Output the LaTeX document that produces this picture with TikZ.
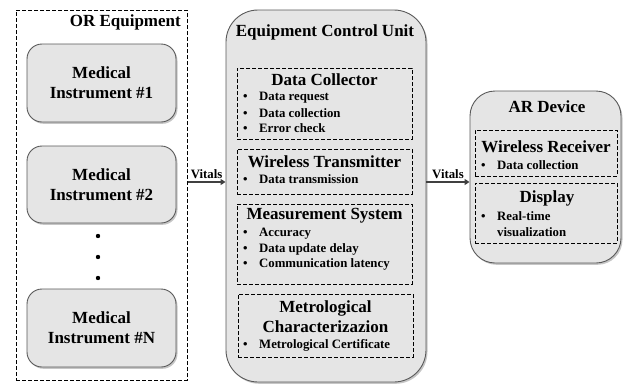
\documentclass[tikz,border=0pt]{standalone}
\usepackage{fontspec}
\setmainfont{Liberation Serif}
\usetikzlibrary{shadows,arrows.meta}

\tikzset{
  unitbox/.style={draw=black!65, line width=0.9pt, fill=black!10,
    drop shadow={shadow xshift=1.5pt, shadow yshift=-1.8pt, opacity=0.45}},
  partbox/.style={draw, line width=1pt, dash pattern=on 4pt off 2pt},
  headtext/.style={font=\bfseries\fontsize{17}{20}\selectfont, align=center, inner sep=0pt},
  parttext/.style={font=\bfseries\fontsize{17}{20}\selectfont, align=center, inner sep=0pt},
  itemtext/.style={font=\bfseries\fontsize{12.8}{15}\selectfont, anchor=west, inner sep=0pt},
  vitalsarrow/.style={-{Triangle[length=5pt,width=6pt]}, line width=1.3pt, black!75}
}

\begin{document}
\begin{tikzpicture}[x=1pt,y=-1pt]
        \useasboundingbox (0,0) rectangle (623,383);

        % OR equipment
        \node[partbox, minimum width=171pt, minimum height=370pt] (or) at (101.5,195) {};
        \node[headtext, anchor=east] (ortitle) at (181,22) {OR Equipment};
        \node[unitbox, rounded corners=15pt, minimum width=149pt, minimum height=78pt, headtext] (mi1) at (101.5,83) {Medical\\Instrument \#1};
        \node[unitbox, rounded corners=15pt, minimum width=149pt, minimum height=77pt, headtext] (mi2) at (101.5,184.5) {Medical\\Instrument \#2};
        \node[unitbox, rounded corners=15pt, minimum width=149pt, minimum height=78pt, headtext] (min) at (101.5,328) {Medical\\Instrument \#N};
        \foreach \y in {236,257,278} \fill (98,\y) circle (2.2pt);

        % Equipment control unit
        \node[unitbox, rounded corners=32pt, minimum width=200pt, minimum height=372pt] (ecu) at (326,196) {};
        \node[headtext] (ecutitle) at (325,32) {Equipment Control Unit};

        \node[partbox, minimum width=175pt, minimum height=71pt] (dc) at (324.5,103.5) {};
        \node[parttext] (dctitle) at (324.5,80) {Data Collector};
        \foreach \y/\t in {98/Data request, 113/Data collection, 128/Error check}
          \node[itemtext] (dc\y) at (243,\y) {\makebox[16pt][l]{\textbullet}\t};

        \node[partbox, minimum width=175pt, minimum height=45pt] (wt) at (324.5,171.5) {};
        \node[parttext] (wttitle) at (324.5,162) {Wireless Transmitter};
        \node[itemtext] (wt179) at (243,179) {\makebox[16pt][l]{\textbullet}Data transmission};

        \node[partbox, minimum width=175pt, minimum height=80pt] (ms) at (324.5,244) {};
        \node[parttext] (mstitle) at (324.5,216) {Measurement System};
        \foreach \y/\t in {234/Accuracy, 249/Data update delay, 264/Communication latency}
          \node[itemtext] (ms\y) at (243,\y) {\makebox[16pt][l]{\textbullet}\t};

        \node[partbox, minimum width=175pt, minimum height=63pt] (mc) at (325.5,325.5) {};
        \node[parttext] (mctitle) at (325.5,317) {Metrological\\Characterizazion};
        \node[itemtext] (mc345) at (243,345) {\makebox[16pt][l]{\textbullet}Metrological Certificate};

        % AR device
        \node[unitbox, rounded corners=25pt, minimum width=151pt, minimum height=172pt] (ar) at (545.5,177) {};
        \node[headtext] (artitle) at (547,107) {AR Device};

        \node[partbox, minimum width=142pt, minimum height=46pt] (wr) at (546,153) {};
        \node[parttext] (wrtitle) at (546,147) {Wireless Receiver};
        \node[itemtext] (wr165) at (481,165) {\makebox[16pt][l]{\textbullet}Data collection};

        \node[partbox, minimum width=142pt, minimum height=60pt] (disp) at (546,213) {};
        \node[parttext] (disptitle) at (547,198) {Display};
        \node[itemtext] (disp216) at (481,216) {\makebox[16pt][l]{\textbullet}Real-time};
        \node[itemtext] (disp232) at (497,232) {visualization};

        % Vitals
        \coordinate (vitals) at (0,182);
        \draw[vitalsarrow] (or.east |- vitals) -- (ecu.west |- vitals) node[midway, above=3pt, itemtext, anchor=south, black] (vin) {Vitals};
        \draw[vitalsarrow] (ecu.east |- vitals) -- (ar.west |- vitals) node[midway, above=3pt, itemtext, anchor=south, black] (vout) {Vitals};
    \end{tikzpicture}
\end{document}
